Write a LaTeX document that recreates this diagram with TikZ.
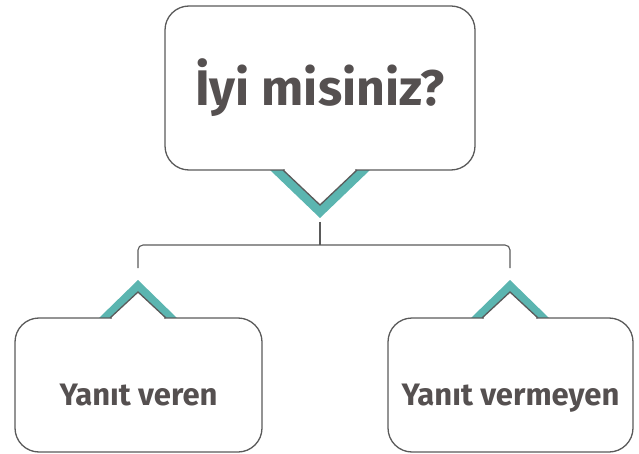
\documentclass[tikz,border=0pt]{standalone}
\usepackage{fontspec}
\setmainfont{Fira Sans}
\definecolor{bubbleteal}{HTML}{5BB5B0}
\definecolor{textgray}{HTML}{555050}
\definecolor{linegray}{HTML}{5A5A5A}
\tikzset{
    %Define style for speech bubbles
    bubble/.style={
             draw=linegray, line width=1.3pt,
             rounded corners=24pt,
             fill=white,
             text=textgray,
             font=\bfseries},
    %Define style for answer bubbles
    answer/.style={
             bubble,
             minimum height=134pt,
             text height=40pt, text depth=0pt,
             font=\bfseries\fontsize{31}{36}\selectfont},
    %Define style for teal pointer bands
    chevron/.style={
             fill=bubbleteal},
    % Define line style
    linkline/.style={
            draw=linegray,
            line width=1.1pt}
}
\begin{document}
\begin{tikzpicture}[x=1pt, y=-1pt]
 \useasboundingbox (0,0) rectangle (639,454);
 % teal bands
 \fill[chevron] (270,170) -- (320,218) -- (370,170) -- (357,170) -- (320,205) -- (283,170) -- cycle;
 \fill[chevron] (99,318) -- (138,280) -- (177,318) -- (166,318) -- (138,292) -- (110,318) -- cycle;
 \fill[chevron] (471,318) -- (510,280) -- (549,318) -- (538,318) -- (510,292) -- (482,318) -- cycle;
 % bubbles
 \node[bubble, minimum width=310pt, minimum height=164pt, font=\bfseries\fontsize{50}{56}\selectfont] (question) at (320,88) {İyi misiniz?};
 \node[answer, minimum width=247pt] (answered) at (138.5,385) {Yanıt veren};
 \node[answer, minimum width=245pt] (unanswered) at (510.5,385) {Yanıt vermeyen};
 % pointers
 \fill[white] (285,167) rectangle (355,171.5);
 \draw[linegray, line width=1.3pt, line join=miter] (283,170) -- (320,205) -- (357,170);
 \fill[white] (112,316.5) rectangle (164,320);
 \draw[linegray, line width=1.3pt, line join=miter] (110,318) -- (138,292) -- (166,318);
 \fill[white] (484,316.5) rectangle (536,320);
 \draw[linegray, line width=1.3pt, line join=miter] (482,318) -- (510,292) -- (538,318);
 % connector
 \coordinate (qtip) at (320,222);
 \coordinate (split) at (320,245);
 \coordinate (atip) at (138,268);
 \coordinate (btip) at (510,268);
 \draw[linkline] (qtip) -- (split);
 \draw[linkline, rounded corners=5pt] (atip) |- (split) -| (btip);
\end{tikzpicture}
\end{document}
